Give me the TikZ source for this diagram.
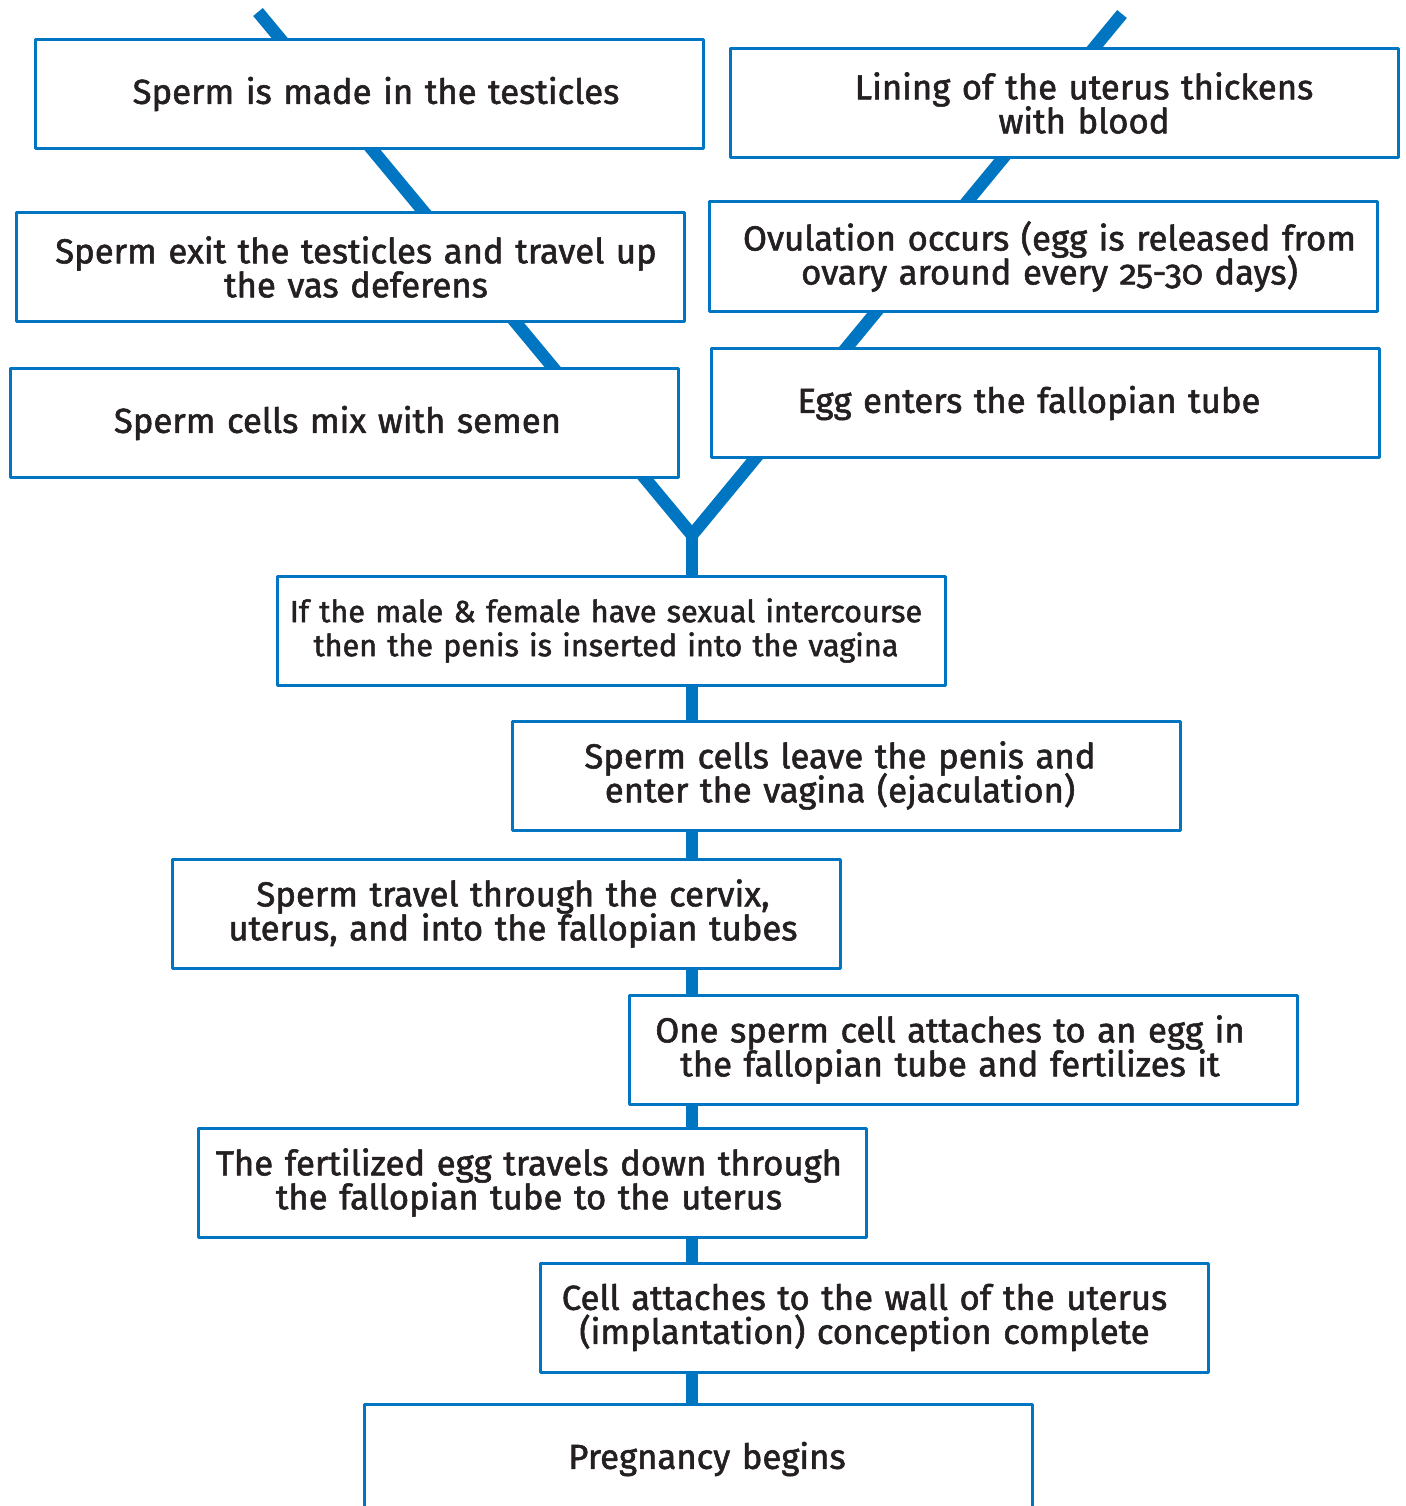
\documentclass[tikz,border=0pt]{standalone}
\usepackage{fontspec}
\setmainfont{Fira Sans}[Numbers=OldStyle,FakeBold=1.6]
\usetikzlibrary{backgrounds}
\definecolor{qqblue}{rgb}{0,0.46,0.76}
\definecolor{qqtext}{rgb}{0.14,0.12,0.13}

\begin{document}
\begin{tikzpicture}[line cap=butt,line join=round,x=1pt,y=-1pt,
    box/.style={draw=qqblue,line width=3pt,fill=white,minimum width=668pt,minimum height=109pt,
      inner sep=0pt,text width=668pt,text=qqtext,font=\fontsize{34.7}{34}\selectfont,
      execute at begin node={\centering\lineskiplimit=-40pt}},
    tshift/.style={execute at begin node={\leftskip=#1 plus 1fil}},
    stem/.style={draw=qqblue,line width=12.5pt}]
  \useasboundingbox (0,0) rectangle (1405,1506);
  % branch points
  \coordinate (mtop) at (258,12);
  \coordinate (ftop) at (1122,14);
  \coordinate (join) at (692,535);
  % male side
  \node[box,tshift=14pt] (made) at (369,94) {Sperm is made in the testicles};
  \node[box,tshift=12pt] (exit) at (350,267) {Sperm exit the testicles and travel up\\the vas deferens};
  \node[box,tshift=-14pt] (mix) at (344.5,423) {Sperm cells mix with semen};
  % female side
  \node[box,tshift=40pt] (lining) at (1064,103) {Lining of the uterus thickens\\with blood};
  \node[box,tshift=12pt] (ovul) at (1043.5,256.5) {Ovulation occurs (egg is released from\\ovary around every 25-30 days)};
  \node[box,tshift=-33pt] (egg) at (1045.5,403) {Egg enters the fallopian tube};
  % common steps
  \node[box,tshift=-10pt,font=\fontsize{30.6}{34}\selectfont] (sex) at (611,630.5) {If the male \& female have sexual intercourse\\then the penis is inserted into the vagina};
  \node[box,tshift=-13pt] (ejac) at (846.5,775.5) {Sperm cells leave the penis and\\enter the vagina (ejaculation)};
  \node[box,tshift=13pt] (cerv) at (506.5,913.5) {Sperm travel through the cervix,\\uterus, and into the fallopian tubes};
  \node[box,tshift=-26pt] (fert) at (963,1049.5) {One sperm cell attaches to an egg in\\the fallopian tube and fertilizes it};
  \node[box,tshift=-6pt] (down) at (532,1182.5) {The fertilized egg travels down through\\the fallopian tube to the uterus};
  \node[box,tshift=-19pt] (impl) at (874,1317.5) {Cell attaches to the wall of the uterus\\(implantation) conception complete};
  \node[box,tshift=18pt] (preg) at (698,1459) {Pregnancy begins};
  \begin{scope}[on background layer]
    \draw[stem] (mtop) -- (join) -- (ftop);
    \draw[stem] (join) -- (join |- preg.north);
  \end{scope}
\end{tikzpicture}
\end{document}
